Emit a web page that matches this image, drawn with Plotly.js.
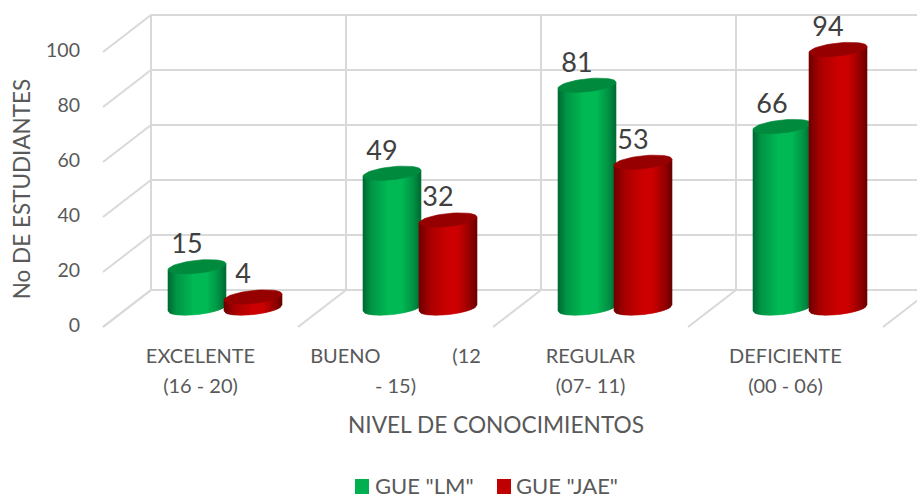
<!DOCTYPE html>
<html><head><meta charset="utf-8">
<script src="https://cdn.plot.ly/plotly-3.0.1.min.js"></script>
<style>html,body{margin:0;padding:0;background:#fff;overflow:hidden}</style></head>
<body><div id="chart" style="width:917px;height:494px"></div>
<script>
// --- data ---
const categories = ['EXCELENTE<br>(16 - 20)', 'BUENO\u00a0\u00a0\u00a0\u00a0\u00a0\u00a0\u00a0\u00a0\u00a0\u00a0\u00a0\u00a0\u00a0\u00a0(12<br>- 15)', 'REGULAR<br>(07- 11)', 'DEFICIENTE<br>(00 - 06)'];
const seriesLM = [15, 49, 81, 66];
const seriesJAE = [4, 32, 53, 94];
const yTicks = [0, 20, 40, 60, 80, 100];
const nameLM = 'GUE "LM"';
const nameJAE = 'GUE "JAE"';
const colorLM = '#00B050';
const colorJAE = '#C00000';

// --- scale constants (pseudo-3D) ---
const PXU = 2.75, CATW = 195;
const ORIGIN = 103, L = 75, R = 917, T = 14, B = 364, Y0 = 325.5;
const xRange = [(L - ORIGIN) / CATW, (R - ORIGIN) / CATW];
const yRange = [(Y0 - B) / PXU, (Y0 - T) / PXU];
const wallDX = 48 / CATW, wallDY = (Y0 - 290) / PXU, frontDrop = (327 - Y0) / PXU;
const floorLift = (Y0 - 308) / PXU;
const A = 29 / CATW, BB = 6.5 / PXU, TILT = 3 / PXU;
const offLM = 94 / CATW, offJAE = 150 / CATW;
const GRID = '#d9d9d9';

function mix(c1, c2, f) { return c1.map((v, i) => Math.round(v + (c2[i] - v) * f)); }
function ramp(stops, u) {
  for (let i = 1; i < stops.length; i++) {
    if (u <= stops[i][0]) {
      const f = (u - stops[i - 1][0]) / (stops[i][0] - stops[i - 1][0]);
      const c = mix(stops[i - 1][1], stops[i][1], f);
      return 'rgb(' + c.join(',') + ')';
    }
  }
  return 'rgb(' + stops[stops.length - 1][1].join(',') + ')';
}
const greenStops = [[-1, [0, 104, 50]], [-0.7, [0, 150, 70]], [-0.1, [0, 186, 85]], [0.35, [0, 186, 85]], [0.8, [0, 140, 65]], [1, [0, 104, 50]]];
const redStops = [[-1, [110, 0, 0]], [-0.6, [170, 0, 0]], [0, [204, 0, 0]], [0.35, [204, 0, 0]], [0.8, [145, 0, 0]], [1, [105, 0, 0]]];

const traces = [];

// real bars carrying the values (hidden behind the cylinder shading)
function barTrace(name, vals, off, col) {
  return { type: 'bar', name, x: vals.map((v, i) => i + off), y: vals, base: floorLift, showlegend: false,
    width: 50 / CATW, marker: { color: col }, hoverinfo: 'y' };
}
traces.push(barTrace(nameLM, seriesLM, offLM, colorLM));
traces.push(barTrace(nameJAE, seriesJAE, offJAE, colorJAE));

// gridlines of the 3-D walls
const gx = [], gy = [];
yTicks.forEach(v => {
  gx.push(0, wallDX, xRange[1] + 1, null);
  gy.push(v - frontDrop, v + wallDY, v + wallDY, null);
});
for (let i = 0; i <= 4; i++) {
  gx.push(i, i + wallDX, i + wallDX, null);
  gy.push(-frontDrop, wallDY, 100 + wallDY, null);
}
traces.push({ type: 'scatter', mode: 'lines', x: gx, y: gy, showlegend: false,
  hoverinfo: 'skip', line: { color: GRID, width: 2 } });

// cylinders
const STRIPS = 29;
function cylinder(vals, off, stops, capCol) {
  for (let k = 0; k < STRIPS; k++) {
    const u1 = -1 + 2 * k / STRIPS, u2 = -1 + 2 * (k + 1) / STRIPS;
    const xs = [], ys = [];
    vals.forEach((v, i) => {
      const cx = i + off, top = floorLift + v;
      const edge = u => floorLift + TILT * u - BB * Math.sqrt(Math.max(0, 1 - u * u));
      xs.push(cx + A * u1, cx + A * u2, cx + A * u2, cx + A * u1, cx + A * u1, null);
      ys.push(top + TILT * u1, top + TILT * u2, edge(u2), edge(u1), top + TILT * u1, null);
    });
    const col = ramp(stops, (u1 + u2) / 2);
    traces.push({ type: 'scatter', mode: 'lines', x: xs, y: ys, fill: 'toself', fillcolor: col,
      line: { color: col, width: 0.6 }, showlegend: false, hoverinfo: 'skip' });
  }
  const cxs = [], cys = [];
  vals.forEach((v, i) => {
    const cx = i + off, top = floorLift + v;
    for (let d = 0; d <= 360; d += 8) {
      const t = d * Math.PI / 180, u = Math.cos(t);
      cxs.push(cx + A * u);
      cys.push(top + TILT * u + BB * Math.sin(t));
    }
    cxs.push(null); cys.push(null);
  });
  traces.push({ type: 'scatter', mode: 'lines', x: cxs, y: cys, fill: 'toself', fillcolor: capCol,
    line: { color: capCol, width: 0.6 }, showlegend: false, hoverinfo: 'skip' });
}
cylinder(seriesLM, offLM, greenStops, '#008A3E');
cylinder(seriesJAE, offJAE, redStops, '#960000');

// data labels
function labels(vals, off) {
  return { type: 'scatter', mode: 'text', x: vals.map((v, i) => i + off - 10 / CATW),
    y: vals.map(v => floorLift + v + 20.5 / PXU), text: vals.map(String), textposition: 'middle center',
    textfont: { family: 'Lato', size: 27, color: '#404040' }, showlegend: false, hoverinfo: 'skip', cliponaxis: false };
}
traces.push(labels(seriesLM, offLM));
traces.push(labels(seriesJAE, offJAE));

// legend entries
const px = x => (x - L) / (R - L), py = y => (B - y) / (B - T);
function swatch(x0, col) {
  return { type: 'rect', xref: 'paper', yref: 'paper', x0: px(x0), x1: px(x0 + 14), y0: py(479), y1: py(494),
    fillcolor: col, line: { width: 0 } };
}
function legendText(x, text) {
  return { xref: 'paper', yref: 'paper', x: px(x), y: py(485), xanchor: 'left', yanchor: 'middle', showarrow: false,
    borderpad: 0, text, font: { family: 'Lato', size: 22, color: '#595959' } };
}

const layout = {
  width: 917, height: 494, paper_bgcolor: '#fff', plot_bgcolor: 'rgba(0,0,0,0)',
  margin: { l: L, r: 917 - R, t: T, b: 494 - B, autoexpand: false },
  barmode: 'overlay', showlegend: false,
  font: { family: 'Lato', color: '#595959' },
  shapes: [swatch(355, colorLM), swatch(497, colorJAE)],
  annotations: [legendText(374, nameLM), legendText(515, nameJAE)],
  xaxis: {
    range: xRange, showgrid: false, zeroline: false, showline: false, ticks: '',
    tickmode: 'array', tickvals: categories.map((c, i) => i + 0.5),
    ticktext: categories.map(c => '<span style="font-size:20px">' + c.replace('<br>', '</span><br><span style="font-size:20px">') + '</span>'),
    tickfont: { family: 'Lato', size: 23, color: '#595959' }, tickangle: 0, ticklabelstandoff: -25,
    title: { text: 'NIVEL DE CONOCIMIENTOS', font: { family: 'Lato', size: 22.7, color: '#595959' }, standoff: 21 }
  },
  yaxis: {
    range: yRange, showgrid: false, zeroline: false, showline: false, ticks: '',
    tickmode: 'array', tickvals: yTicks, ticktext: yTicks.map(String),
    tickfont: { family: 'Lato', size: 19.5, color: '#595959' }, ticklabelstandoff: -6,
    title: { text: '<span style="font-size:22.5px">No DE ESTUDIANTES</span>', font: { family: 'Lato', size: 17.5, color: '#595959' } }
  }
};
Plotly.newPlot('chart', traces, layout, { displayModeBar: false, staticPlot: true });
</script></body></html>
